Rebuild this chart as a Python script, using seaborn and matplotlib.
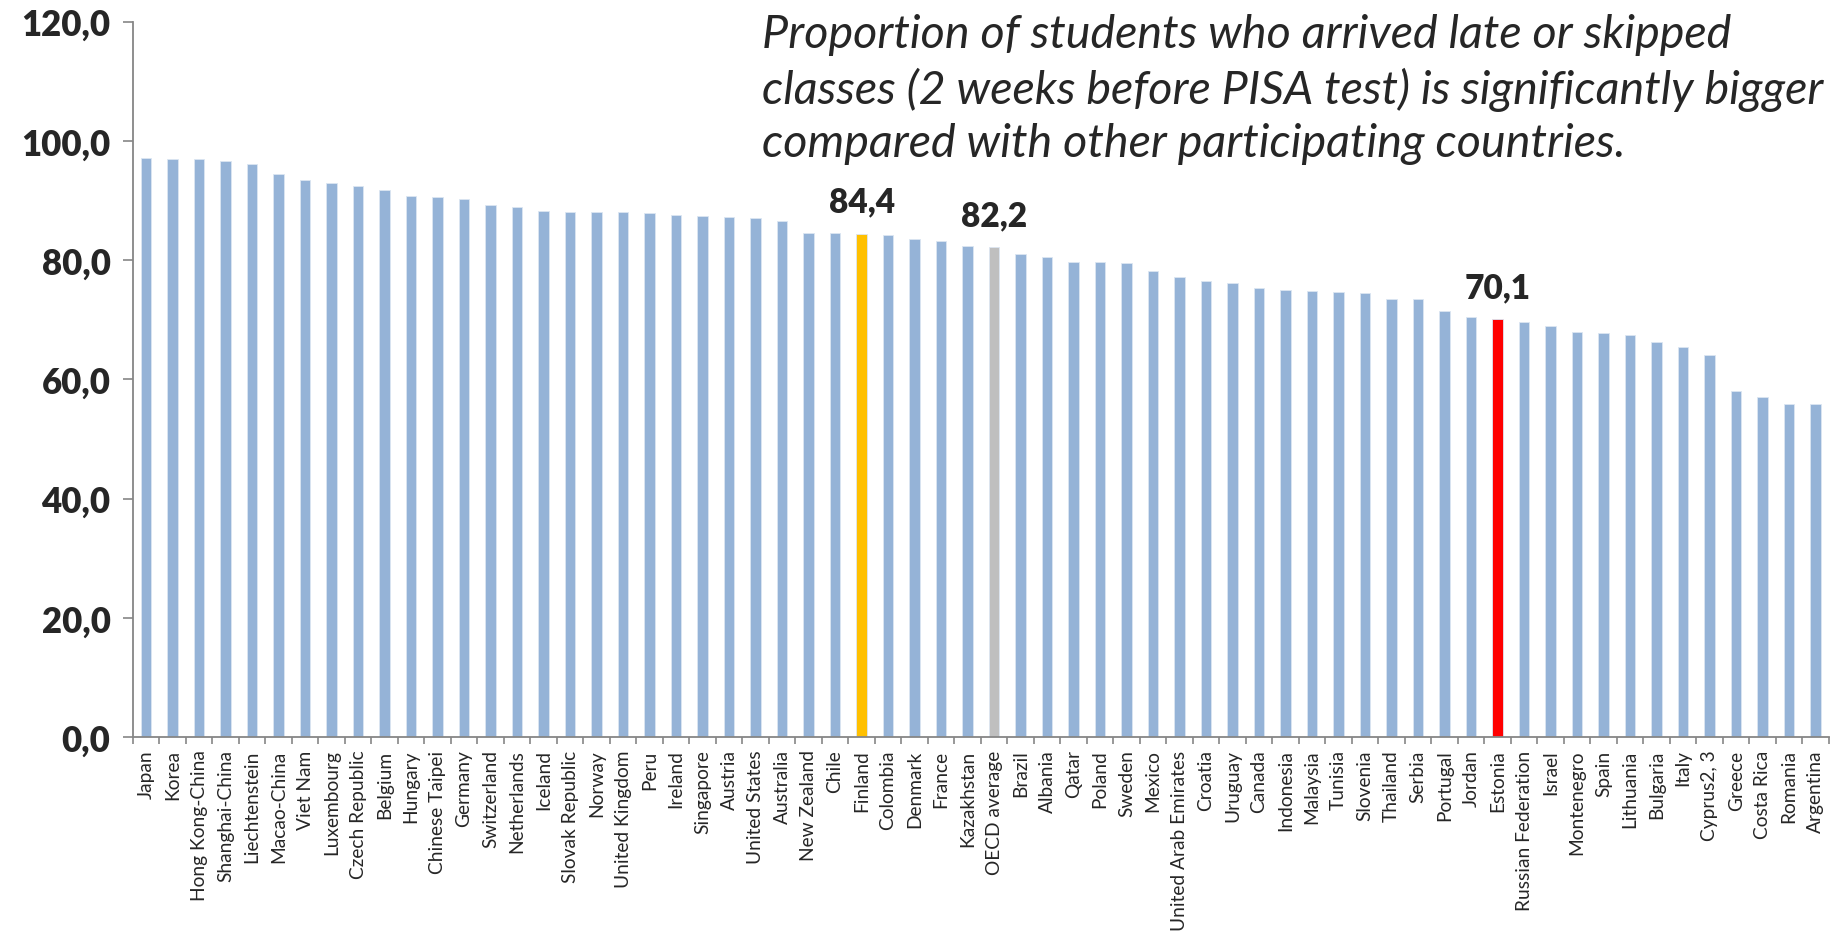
import matplotlib
matplotlib.use('Agg')
import matplotlib.pyplot as plt
import seaborn as sns
import pandas as pd
from matplotlib.ticker import FixedLocator, FuncFormatter

sns.set_style('white')
plt.rcParams['font.family'] = ['Lato', 'DejaVu Sans']

# ── Data ───────────────────────────────────────────────────────────
countries = [
    'Japan', 'Korea', 'Hong Kong-China', 'Shanghai-China', 'Liechtenstein',
    'Macao-China', 'Viet Nam', 'Luxembourg', 'Czech Republic', 'Belgium',
    'Hungary', 'Chinese Taipei', 'Germany', 'Switzerland', 'Netherlands',
    'Iceland', 'Slovak Republic', 'Norway', 'United Kingdom', 'Peru',
    'Ireland', 'Singapore', 'Austria', 'United States', 'Australia',
    'New Zealand', 'Chile', 'Finland', 'Colombia', 'Denmark', 'France',
    'Kazakhstan', 'OECD average', 'Brazil', 'Albania', 'Qatar', 'Poland',
    'Sweden', 'Mexico', 'United Arab Emirates', 'Croatia', 'Uruguay',
    'Canada', 'Indonesia', 'Malaysia', 'Tunisia', 'Slovenia', 'Thailand',
    'Serbia', 'Portugal', 'Jordan', 'Estonia', 'Russian Federation',
    'Israel', 'Montenegro', 'Spain', 'Lithuania', 'Bulgaria', 'Italy',
    'Cyprus2, 3', 'Greece', 'Costa Rica', 'Romania', 'Argentina',
]
values = [
    97.1, 97.0, 96.9, 96.6, 96.2, 94.5, 93.4, 92.9, 92.5, 91.7,
    90.7, 90.6, 90.2, 89.3, 88.9, 88.2, 88.1, 88.0, 88.0, 87.9,
    87.5, 87.4, 87.2, 87.0, 86.5, 84.6, 84.5, 84.4, 84.2, 83.6,
    83.2, 82.4, 82.2, 81.1, 80.5, 79.6, 79.6, 79.5, 78.2, 77.2,
    76.5, 76.2, 75.4, 75.0, 74.8, 74.6, 74.5, 73.5, 73.4, 71.4,
    70.4, 70.1, 69.6, 68.9, 67.9, 67.7, 67.4, 66.3, 65.5, 64.0,
    58.0, 57.0, 55.8, 55.8,
]
highlight = {'Finland': '#FFC000', 'OECD average': '#BFBFBF', 'Estonia': '#FF0000'}
labelled = ['Finland', 'OECD average', 'Estonia']
yticks = [0, 20, 40, 60, 80, 100, 120]

title = ('Proportion of students who arrived late or skipped\n'
         'classes (2 weeks before PISA test) is significantly bigger\n'
         'compared with other participating countries.')

BLUE = '#95B3D7'
AXIS = '#868686'

df = pd.DataFrame({'country': countries, 'value': values})
palette = {c: highlight.get(c, BLUE) for c in countries}

# ── Plot ───────────────────────────────────────────────────────────
fig = plt.figure(figsize=(18.32, 9.37), dpi=100)
ax = fig.add_axes([0.0725, 0.2124, 0.9258, 0.7634])

sns.barplot(data=df, x='country', y='value', hue='country', palette=palette,
            saturation=1, width=0.4, legend=False, ax=ax,
            edgecolor='#DCE6F2', linewidth=0.6)

ax.set_xlim(-0.5, len(countries) - 0.5)
ax.set_ylim(0, 120)
ax.yaxis.set_major_locator(FixedLocator(yticks))
ax.yaxis.set_major_formatter(FuncFormatter(lambda v, p: f'{v:.1f}'.replace('.', ',')))
ax.tick_params(axis='y', labelsize=25, length=7, width=1.2, color=AXIS,
               direction='out', left=True, pad=9)
for lab in ax.get_yticklabels():
    lab.set_fontweight('heavy')

# Excel-style category ticks between bars
ax.set_xticks(range(len(countries)))
ax.set_xticklabels(countries, rotation=90, fontsize=13.8)
ax.tick_params(axis='x', length=0, pad=9)
ax.set_xticks([i - 0.5 for i in range(len(countries) + 1)], minor=True)
ax.tick_params(axis='x', which='minor', length=5, width=1.2, color=AXIS,
               direction='out', bottom=True)
ax.set_xlabel('')
ax.set_ylabel('')

sns.despine(ax=ax, top=True, right=True)
for side in ['left', 'bottom']:
    ax.spines[side].set_color(AXIS)
    ax.spines[side].set_linewidth(1.3)

for name in labelled:
    i = countries.index(name)
    ax.text(i, values[i] + 3.7, f'{values[i]:.1f}'.replace('.', ','),
            ha='center', va='baseline', fontsize=24, fontweight='heavy')

fig.text(0.416, 0.985, title, ha='left', va='top', fontsize=33.6,
         style='italic', linespacing=1.33)

plt.savefig('out.png', dpi=100)
plt.close()
